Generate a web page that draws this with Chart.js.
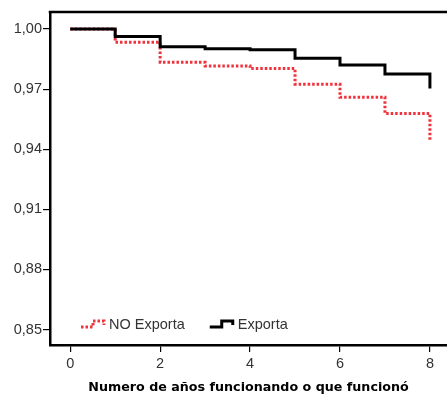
<!DOCTYPE html>
<html>
<head>
<meta charset="utf-8">
<script src="https://cdn.jsdelivr.net/npm/chart.js@4.4.1/dist/chart.umd.min.js"></script>
<style>
  html, body { margin: 0; padding: 0; background: #fff; }
  #wrap { width: 447px; height: 395px; position: relative; }
</style>
</head>
<body>
<div id="wrap"><canvas id="c" width="447" height="395"></canvas></div>
<script>
// ---- data ----
const years = [0, 1, 2, 3, 4, 5, 6, 7, 8];
const noExporta = [1.0, 0.9934, 0.9834, 0.9816, 0.9803, 0.9725, 0.9660, 0.9578, 0.9442];
const exporta   = [1.0, 0.9963, 0.9912, 0.9901, 0.9896, 0.9854, 0.9821, 0.9776, 0.9703];
const seriesLabels = ['NO Exporta', 'Exporta'];
const xTicks = [0, 2, 4, 6, 8];
const yTicks = [0.85, 0.88, 0.91, 0.94, 0.97, 1.00];
const xTitle = 'Numero de años funcionando o que funcionó';

const toPoints = (vals) => years.map((x, i) => ({ x: x, y: vals[i] }));

Chart.defaults.font.family = '"Liberation Sans", Arial, sans-serif';

const frameTop = {
  id: 'frameTop',
  afterDatasetsDraw(chart) {
    const { ctx, chartArea } = chart;
    ctx.save();
    ctx.strokeStyle = '#000';
    ctx.lineWidth = 2.5;
    ctx.beginPath();
    ctx.moveTo(chartArea.left - 1.25, chartArea.top);
    ctx.lineTo(chartArea.right, chartArea.top);
    ctx.stroke();
    ctx.restore();
  }
};

const stepLegend = {
  id: 'stepLegend',
  afterDraw(chart) {
    const { ctx, chartArea } = chart;
    const y = chartArea.bottom - 20;
    let x = chartArea.left + 31;
    ctx.save();
    ctx.font = '14.5px "Liberation Sans", Arial, sans-serif';
    ctx.textBaseline = 'middle';
    ctx.textAlign = 'left';
    chart.data.datasets.forEach(ds => {
      ctx.strokeStyle = ds.borderColor;
      ctx.lineWidth = ds.borderWidth;
      ctx.setLineDash(ds.borderDash || []);
      ctx.lineJoin = 'miter';
      ctx.beginPath();
      ctx.moveTo(x, y + 2);
      ctx.lineTo(x + 12, y + 2);
      ctx.lineTo(x + 12, y - 4);
      ctx.lineTo(x + 23, y - 4);
      ctx.lineTo(x + 23, y);
      ctx.stroke();
      ctx.setLineDash([]);
      ctx.fillStyle = '#333';
      ctx.fillText(ds.label, x + 28, y);
      x += 28 + ctx.measureText(ds.label).width + 25;
    });
    ctx.restore();
  }
};

new Chart(document.getElementById('c'), {
  type: 'line',
  data: {
    datasets: [
      {
        label: seriesLabels[0],
        data: toPoints(noExporta),
        borderColor: '#f0323c',
        borderWidth: 3,
        borderDash: [2.5, 2],
        stepped: true,
        pointRadius: 0,
        fill: false,
        order: 1
      },
      {
        label: seriesLabels[1],
        data: toPoints(exporta),
        borderColor: '#000000',
        borderWidth: 3,
        stepped: true,
        pointRadius: 0,
        fill: false,
        order: 0
      }
    ]
  },
  options: {
    responsive: false,
    animation: false,
    events: [],
    layout: { padding: { top: 12, right: 0, left: 0, bottom: 0 } },
    plugins: {
      legend: { display: false },
      tooltip: { enabled: false }
    },
    scales: {
      x: {
        type: 'linear',
        min: -0.45,
        max: 8.38,
        afterBuildTicks: (s) => { s.ticks = xTicks.map(v => ({ value: v })); },
        afterFit: (s) => { s.height = 50; },
        border: { display: true, color: '#000', width: 2.5 },
        grid: { drawOnChartArea: false, drawTicks: true, tickLength: 7, color: '#000', lineWidth: 1.2 },
        ticks: {
          color: '#333',
          font: { size: 14.5 },
          padding: 3,
          maxRotation: 0,
          autoSkip: false,
          callback: (v) => String(v)
        },
        title: {
          display: true,
          text: xTitle,
          color: '#000',
          font: { family: '"DejaVu Sans", sans-serif', size: 12.7, weight: 'bold' },
          padding: { top: 0, bottom: 0 }
        }
      },
      y: {
        type: 'linear',
        min: 0.8423,
        max: 1.0085,
        afterBuildTicks: (s) => { s.ticks = yTicks.map(v => ({ value: v })); },
        afterFit: (s) => { s.width = 50; },
        border: { display: true, color: '#000', width: 2.5 },
        grid: { drawOnChartArea: false, drawTicks: true, tickLength: 7, color: '#000', lineWidth: 1.2 },
        ticks: {
          color: '#333',
          font: { size: 14.5 },
          padding: 1,
          autoSkip: false,
          callback: (v) => Number(v).toFixed(2).replace('.', ',')
        }
      }
    }
  },
  plugins: [frameTop, stepLegend]
});
</script>
</body>
</html>
